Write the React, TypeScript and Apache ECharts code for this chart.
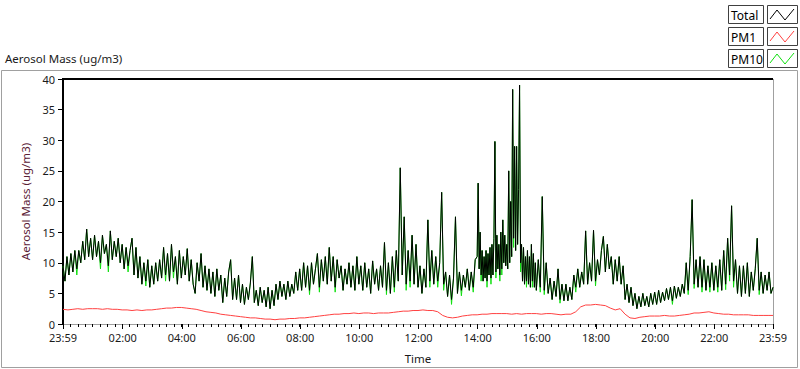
import React, { useEffect, useRef } from "react";
import * as echarts from "echarts";

// minutes after 23:59 (start of record); labels are clock times
const xTickMinutes = [0, 121, 241, 361, 481, 601, 721, 841, 961, 1081, 1201, 1321, 1440];
const yMin = 0;
const yMax = 40;
const yStep = 5;

const seriesNames = ["Total", "PM1", "PM10"];
const seriesColors = ["#000000", "#ff4040", "#10e010"];

// Total, one row per hour after 23:59 (values evenly spaced inside the hour)
const totalRows: number[][] = [
  [9.5, 7, 11, 8, 11.5, 8.5, 12, 9, 12, 10, 13.5, 10.5, 15.5, 11, 14],
  [10.5, 14.5, 11, 13.5, 10, 14.5, 11.5, 13, 9.5, 15.2, 10.5, 13.5, 11, 14, 10],
  [13, 9, 12.5, 9.5, 12, 14, 8, 12.5, 7.5, 11, 6.5, 10, 7, 10.5, 6],
  [9.5, 6.5, 10, 7, 10.5, 7.5, 12.5, 8, 11.5, 7, 13, 8.5, 11, 6.5, 12],
  [7.5, 11, 8, 12.3, 7, 10.5, 6.5, 5, 10, 7, 11.5, 6, 9.5, 5.5, 9],
  [5, 8.5, 4.5, 9, 5.5, 8, 3.5, 7.5, 4.5, 8.5, 10.5, 4, 7.5, 4, 8],
  [3.5, 6.5, 3.2, 6, 4, 6.7, 11, 3.5, 5.5, 3, 6, 3.5, 5.5, 2.8, 6],
  [2.5, 5.5, 3, 6.5, 4, 7, 4.5, 6.5, 4, 7, 4.5, 6.5, 5, 8.5, 5.5],
  [9, 5.5, 10, 6, 9.5, 5.5, 10, 6.5, 9, 11.5, 6, 10.5, 7, 11, 6.5],
  [12.5, 7, 11, 6, 10.5, 7.5, 9.5, 5.5, 9, 6.5, 10, 6, 9.5, 5.5, 11],
  [6.5, 9.5, 5.5, 10, 6, 9, 5, 10.3, 6.5, 9, 5.5, 9.5, 6, 13.3, 5.5],
  [10, 5, 11, 6, 12, 7, 25.5, 8, 17.5, 6.5, 12, 7, 14.5, 6.5, 13],
  [6, 9.5, 5, 9, 6, 17, 7, 12, 6.5, 11, 7, 10, 21.5, 6.5, 8.5],
  [4.5, 8, 4, 7.5, 17.5, 5, 8.5, 5.5, 8, 6, 9, 5.5, 8.5, 6, 10.5],
  [11, 23, 9, 15, 8, 12, 7, 11, 7.5, 12, 7, 11.5, 8, 12.5, 7.5, 13, 8, 14, 29.8, 8.5, 14.5, 9, 13, 8, 15, 9, 17, 10, 14.5, 9.5],
  [13, 9, 25, 10, 20, 11, 38.3, 14, 29, 12, 29, 13, 22, 39, 10, 13, 7, 12.5, 6.5, 11, 7, 12, 6.5, 11, 6, 13, 7, 11.5, 6, 10],
  [5.5, 10.5, 6, 20.8, 5.5, 10, 5, 7.5, 4, 7, 4.5, 9, 4, 6.5, 3.8],
  [6.5, 3.8, 6, 4, 8, 6, 9, 6, 8.5, 6.5, 15.2, 6.5, 10, 7, 15.3],
  [7, 10.5, 8, 12, 14.3, 8.5, 13, 9, 11, 6.5, 10.5, 7, 11, 6.5, 9.5],
  [4, 6.5, 3.5, 6, 3, 5, 2.5, 4.5, 2.8, 5, 3, 4.5, 2.8, 5, 3.2],
  [5.2, 3.2, 5.5, 3.5, 5.2, 3.8, 5.8, 4, 6, 3.8, 6.2, 4.2, 6, 4.5, 6.5],
  [5, 10, 5.5, 11, 20.3, 6.5, 10.5, 6, 11, 6, 10.5, 5.5, 9.5, 6, 10],
  [5.5, 9.5, 6, 10.5, 5.5, 12, 6.5, 14, 8, 19.3, 7, 10.5, 5, 9.5, 4.5],
  [9.5, 5, 10, 4.5, 8.5, 5.5, 9, 14, 5.5, 8.5, 5, 8, 5.5, 8.5, 5],
];
const totalEnd = 6;

const pm10Rows: number[][] = [
  [9.5, 7, 11, 8, 11.5, 8.5, 12, 8, 12, 10, 13.5, 10.5, 15.5, 11, 14],
  [10.5, 14.5, 11, 13.5, 9, 14.5, 11.5, 13, 8.5, 15.2, 10.5, 13.5, 11, 14, 10],
  [13, 9, 12.5, 8.5, 12, 14, 8, 12.5, 7.5, 11, 6.5, 10, 6.2, 10.5, 6],
  [9.5, 6.5, 10, 7, 10.5, 7.5, 12.5, 7, 11.5, 7, 13, 7.5, 11, 6.5, 12],
  [7.5, 11, 8, 12.3, 7, 10.5, 6.5, 5, 10, 7, 11.5, 6, 9.5, 5.5, 9],
  [5, 8.5, 4.5, 9, 5.5, 8, 3.5, 7.5, 4.5, 8.5, 10.5, 4, 7.5, 4, 8],
  [3.5, 6.5, 3.2, 6, 4, 6.7, 11, 3.5, 5.5, 3, 6, 3.5, 5.5, 2.8, 6],
  [2.5, 5.5, 3, 6.5, 4, 7, 4.5, 6.5, 4, 7, 4.5, 6.5, 5, 8.5, 5.5],
  [9, 5.5, 10, 6, 9.5, 4.8, 10, 6.5, 9, 11.5, 5.2, 10.5, 7, 11, 6.5],
  [12.5, 7, 11, 5.2, 10.5, 7.5, 9.5, 5.5, 9, 6.5, 10, 6, 9.5, 5.5, 11],
  [6.5, 9.5, 5.5, 10, 6, 9, 5, 10.3, 6.5, 9, 5.5, 9.5, 6, 13.3, 4.8],
  [10, 5, 11, 5.2, 12, 7, 25.5, 8, 17.5, 5.5, 12, 6, 14.5, 6.5, 13],
  [6, 9.5, 5, 9, 6, 17, 6, 12, 6.5, 11, 6, 10, 21.5, 5.5, 8.5],
  [4.5, 8, 3.2, 7.5, 17.5, 5, 8.5, 4.6, 8, 6, 9, 5.5, 8.5, 5.2, 10.5],
  [11, 23, 9, 15, 7, 12, 7, 11, 7.5, 12, 6, 11.5, 8, 12.5, 6.5, 13, 8, 14, 29.8, 7.5, 14.5, 9, 13, 7, 15, 8, 17, 10, 14.5, 9.5],
  [13, 9, 25, 10, 20, 11, 38.3, 12.5, 29, 12, 29, 13, 22, 39, 8.5, 13, 7, 12.5, 6.5, 11, 6, 12, 6.5, 11, 6, 13, 6, 11.5, 6, 10],
  [5.5, 10.5, 5.2, 20.8, 4.8, 10, 5, 7.5, 4, 7, 4.5, 9, 3.4, 6.5, 3.8],
  [6.5, 3.8, 6, 4, 8, 5.2, 9, 6, 8.5, 6.5, 15.2, 6.5, 10, 7, 15.3],
  [6.2, 10.5, 8, 12, 14.3, 8.5, 13, 9, 11, 6.5, 10.5, 7, 11, 6.5, 9.5],
  [4, 6.5, 3.5, 6, 3, 5, 2.5, 4.5, 2.8, 5, 3, 4.5, 2.8, 5, 3.2],
  [5.2, 3.2, 5.5, 3.5, 5.2, 3.8, 5.8, 4, 6, 3.2, 6.2, 4.2, 6, 4.5, 6.5],
  [5, 10, 4.8, 11, 20.3, 5.8, 10.5, 6, 11, 5.2, 10.5, 5.5, 9.5, 5.2, 10],
  [5.5, 9.5, 5.2, 10.5, 5.5, 12, 5.6, 14, 7, 19.3, 6, 10.5, 5, 9.5, 4.5],
  [9.5, 5, 10, 4.5, 8.5, 5.5, 9, 14, 4.8, 8.5, 5, 8, 5.5, 8.5, 5],
];
const pm10End = 6;

const pm1Rows: number[][] = [
  [2.4, 2.3, 2.4, 2.5, 2.4, 2.5],
  [2.5, 2.5, 2.4, 2.5, 2.4, 2.4],
  [2.3, 2.3, 2.2, 2.3, 2.2, 2.3],
  [2.3, 2.4, 2.5, 2.6, 2.6, 2.7],
  [2.7, 2.6, 2.5, 2.4, 2.2, 2.0],
  [1.9, 1.8, 1.6, 1.5, 1.4, 1.3],
  [1.2, 1.1, 1.0, 1.0, 0.9, 0.8],
  [0.8, 0.7, 0.8, 0.8, 0.9, 0.9],
  [1.0, 1.0, 1.1, 1.2, 1.3, 1.4],
  [1.5, 1.6, 1.6, 1.7, 1.7, 1.8],
  [1.7, 1.8, 1.8, 1.7, 1.8, 1.8],
  [1.8, 1.9, 2.0, 2.1, 2.1, 2.2],
  [2.2, 2.3, 2.2, 2.2, 2.0, 1.4],
  [1.1, 1.0, 1.1, 1.3, 1.4, 1.5],
  [1.5, 1.6, 1.6, 1.7, 1.7, 1.7],
  [1.7, 1.6, 1.7, 1.6, 1.7, 1.7],
  [1.7, 1.6, 1.7, 1.7, 1.6, 1.5],
  [1.6, 1.6, 2.0, 2.8, 3.1, 3.1],
  [3.2, 3.1, 3.0, 2.6, 2.3, 2.5],
  [1.6, 1.0, 0.9, 1.1, 1.2, 1.3],
  [1.3, 1.3, 1.4, 1.3, 1.3, 1.4],
  [1.5, 1.6, 1.8, 1.8, 1.9, 2.0],
  [1.8, 1.7, 1.6, 1.6, 1.5, 1.5],
  [1.5, 1.5, 1.4, 1.4, 1.4, 1.4],
];
const pm1End = 1.4;

function rowsToPoints(rows: number[][], end: number): number[][] {
  const pts: number[][] = [];
  rows.forEach((row, h) => {
    row.forEach((v, i) => pts.push([h * 60 + (i * 60) / row.length, v]));
  });
  pts.push([rows.length * 60, end]);
  return pts;
}

function clockLabel(v: number): string {
  const m = Math.round(1439 + v) % 1440;
  const hh = Math.floor(m / 60);
  const mm = m % 60;
  return String(hh).padStart(2, "0") + ":" + String(mm).padStart(2, "0");
}

const FONT = "'Noto Sans', 'DejaVu Sans', sans-serif";
const TXT = "#1a1a1a";

export default function App() {
  const ref = useRef<HTMLDivElement>(null);
  useEffect(() => {
    if (!ref.current) return;
    const chart = echarts.init(ref.current, undefined, { renderer: "svg" });
    const legendGraphics: any[] = [];
    seriesNames.forEach((name, i) => {
      const y = 5 + i * 22;
      legendGraphics.push({
        type: "rect",
        shape: { x: 728.5, y: y + 0.5, width: 35, height: 18 },
        style: { fill: "#fff", stroke: "#404040", lineWidth: 1 },
      });
      legendGraphics.push({
        type: "text",
        x: 731,
        y: y + 10,
        style: { text: name, fill: "#000", font: "12px " + FONT, verticalAlign: "middle" },
      });
      legendGraphics.push({
        type: "rect",
        shape: { x: 767.5, y: y + 0.5, width: 30, height: 18 },
        style: { fill: "#fff", stroke: "#404040", lineWidth: 1 },
      });
      legendGraphics.push({
        type: "polyline",
        shape: { points: [[770, y + 14], [777, y + 5], [785, y + 15], [794, y + 4]] },
        style: { stroke: seriesColors[i], lineWidth: 1, fill: "none" },
      });
    });

    chart.setOption({
      animation: false,
      backgroundColor: "#ffffff",
      grid: { left: 63, right: 27, top: 79, bottom: 40, show: false },
      xAxis: [
        {
          type: "value",
          min: 0,
          max: 1440,
          position: "bottom",
          name: "Time",
          nameLocation: "middle",
          nameGap: 28,
          nameTextStyle: { color: TXT, fontSize: 11.5, fontFamily: FONT },
          axisLine: { show: true, lineStyle: { color: "#a0a0a0", width: 1 } },
          axisTick: { show: true, customValues: xTickMinutes, length: 5, lineStyle: { color: "#000" } },
          axisLabel: {
            show: true,
            customValues: xTickMinutes,
            formatter: (v: number) => clockLabel(v),
            color: TXT,
            fontSize: 11,
            fontFamily: FONT,
            margin: 8,
          },
          splitLine: { show: false },
        },
        {
          type: "value",
          min: 0,
          max: 1440,
          interval: 15,
          position: "bottom",
          offset: 0,
          axisLine: { show: false },
          axisTick: { show: true, length: 3, lineStyle: { color: "#000" } },
          axisLabel: { show: false },
          splitLine: { show: false },
        },
      ],
      yAxis: {
        type: "value",
        min: yMin,
        max: yMax,
        interval: yStep,
        name: "Aerosol Mass (ug/m3)",
        nameLocation: "middle",
        nameGap: 22,
        nameTextStyle: { color: "#5a2035", fontSize: 11.5, fontFamily: FONT },
        axisLine: { show: true, lineStyle: { color: "#000", width: 2 } },
        axisTick: { show: true, length: 5, lineStyle: { color: "#000" } },
        axisLabel: { color: TXT, fontSize: 11, fontFamily: FONT, margin: 8 },
        splitLine: { show: false },
      },
      graphic: [
        {
          type: "rect",
          shape: { x: 1.5, y: 70.5, width: 796, height: 297 },
          style: { fill: "none", stroke: "#a0a0a0", lineWidth: 1 },
        },
        {
          type: "text",
          x: 5,
          y: 58,
          style: { text: "Aerosol Mass (ug/m3)", fill: TXT, font: "11.5px " + FONT, verticalAlign: "middle" },
        },
        { type: "line", shape: { x1: 62, y1: 79, x2: 773, y2: 79 }, style: { stroke: "#000", lineWidth: 2 } },
        { type: "line", shape: { x1: 773.5, y1: 79, x2: 773.5, y2: 329 }, style: { stroke: "#a0a0a0", lineWidth: 1 } },
        ...legendGraphics,
      ],
      series: [
        {
          name: "PM1",
          type: "line",
          data: rowsToPoints(pm1Rows, pm1End),
          showSymbol: false,
          lineStyle: { color: seriesColors[1], width: 1 },
          z: 2,
        },
        {
          name: "PM10",
          type: "line",
          data: rowsToPoints(pm10Rows, pm10End),
          showSymbol: false,
          lineStyle: { color: seriesColors[2], width: 1 },
          z: 3,
        },
        {
          name: "Total",
          type: "line",
          data: rowsToPoints(totalRows, totalEnd),
          showSymbol: false,
          lineStyle: { color: seriesColors[0], width: 1 },
          z: 4,
        },
      ],
    });
    return () => chart.dispose();
  }, []);
  return <div ref={ref} style={{ width: 800, height: 369, position: "absolute", left: 0, top: 0 }} />;
}
